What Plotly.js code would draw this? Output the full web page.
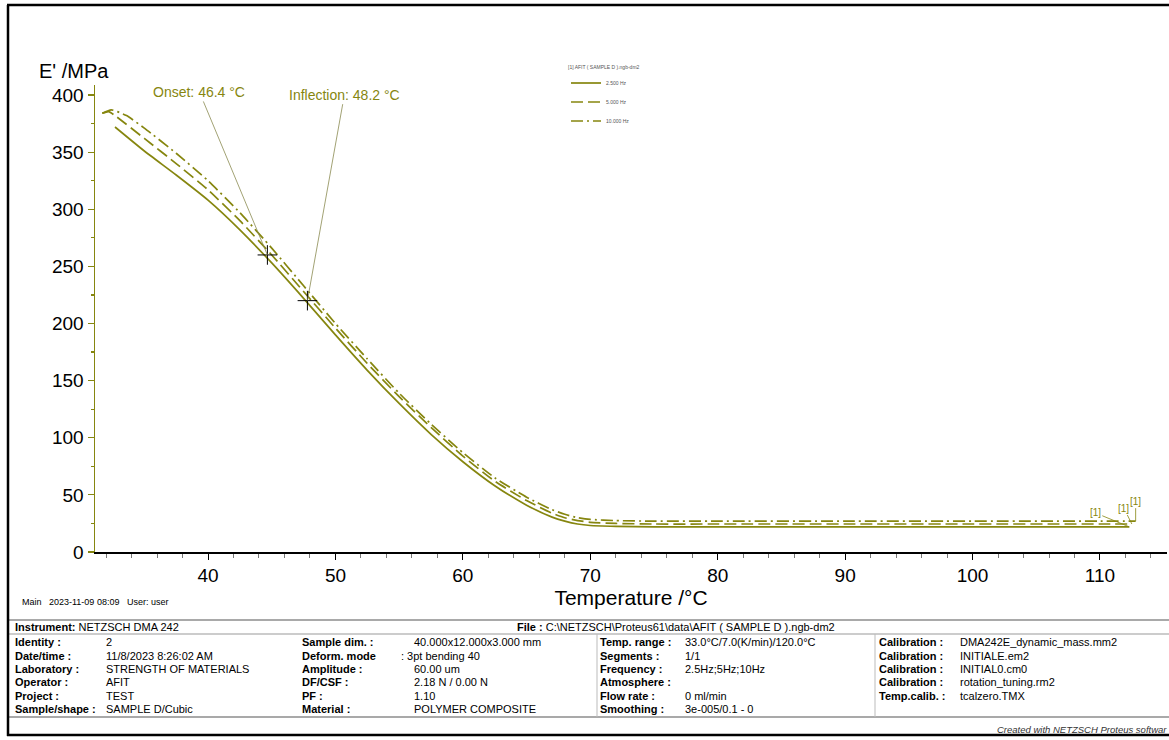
<!DOCTYPE html>
<html><head><meta charset="utf-8">
<script src="https://cdn.plot.ly/plotly-3.0.1.min.js"></script>
<style>html,body{margin:0;padding:0;background:#fff;} #chart{width:1169px;height:740px;}</style>
</head><body><div id="chart"></div>
<script>
// ---- data ----
const tempSolid = [32.7, 35, 37.5, 40, 42.5, 45, 47.5, 50, 52.5, 55, 57.5, 60, 62.5, 65, 67, 68, 69, 70, 72, 75, 80, 90, 100, 110, 112.3];
const eSolid    = [372, 351, 330, 308, 282, 253, 222, 190, 159, 130, 103, 79, 58, 41, 30.5, 27, 24.5, 23.2, 22.5, 22, 22, 22, 22, 22, 22];
const tempDash  = [31.7, 32.2, 32.7, 35, 37.5, 40, 42.5, 45, 47.5, 50, 52.5, 55, 57.5, 60, 62.5, 65, 67, 68, 69, 70, 72, 75, 80, 90, 100, 110, 112.5];
const eDash     = [384, 385.5, 382, 362, 340, 317, 290, 260, 228, 196, 165, 136, 109, 84, 62, 45, 34, 30, 27.5, 26, 25, 24.5, 24.5, 24.5, 24.5, 24.5, 24.5];
const tempDDot  = [31.7, 32.4, 33.6, 35, 37.5, 40, 42.5, 45, 47.5, 50, 52.5, 55, 57.5, 60, 62.5, 65, 67, 68, 69, 70, 72, 75, 80, 90, 100, 110, 112.8];
const eDDot     = [384, 387, 382, 371, 349, 325, 297, 266, 233, 200, 169, 139, 112, 87, 65, 48, 37, 33, 30, 28.5, 27.5, 27, 27, 27, 27, 27, 27];
const seriesNames = ["2.500 Hz", "5.000 Hz", "10.000 Hz"];
const legendTitle = "[1] AFIT ( SAMPLE D ).ngb-dm2";
const markTemp = [44.66, 47.8];
const markE    = [260, 220];
const markText = ["Onset: 46.4 °C", "Inflection: 48.2 °C"];
const xTickVals = [40, 50, 60, 70, 80, 90, 100, 110];
const yTickVals = [0, 50, 100, 150, 200, 250, 300, 350, 400];
const xTitle = "Temperature /°C";
const yTitle = "E' /MPa";
const mainLine = "Main   2023-11-09 08:09   User: user";
const instrumentText = "<b>Instrument:</b> NETZSCH DMA 242";
const fileText = "<b>File :</b> C:\\NETZSCH\\Proteus61\\data\\AFIT ( SAMPLE D ).ngb-dm2";
const col1Labels = ["Identity :", "Date/time :", "Laboratory :", "Operator :", "Project :", "Sample/shape :"];
const col1Values = ["2", "11/8/2023 8:26:02 AM", "STRENGTH OF MATERIALS", "AFIT", "TEST", "SAMPLE D/Cubic"];
const col2Labels = ["Sample dim. :", "Deform. mode", "Amplitude :", "DF/CSF :", "PF :", "Material :"];
const col2Values = ["40.000x12.000x3.000 mm", ": 3pt bending 40", "60.00 um", "2.18 N / 0.00 N", "1.10", "POLYMER COMPOSITE"];
const col3Labels = ["Temp. range :", "Segments :", "Frequency :", "Atmosphere :", "Flow rate :", "Smoothing :"];
const col3Values = ["33.0°C/7.0(K/min)/120.0°C", "1/1", "2.5Hz;5Hz;10Hz", "", "0 ml/min", "3e-005/0.1 - 0"];
const col4Labels = ["Calibration :", "Calibration :", "Calibration :", "Calibration :", "Temp.calib. :", ""];
const col4Values = ["DMA242E_dynamic_mass.mm2", "INITIALE.em2", "INITIAL0.cm0", "rotation_tuning.rm2", "tcalzero.TMX", ""];
const footer = "Created with NETZSCH Proteus softwar";

// ---- layout helpers (pixel -> paper) ----
const L = 95, R = 2, T = 85, B = 188, WW = 1169, HH = 740;
const PW = WW - L - R, PH = HH - T - B;
const px = v => (v - L) / PW;
const py = v => (HH - B - v) / PH;

const OLIVE = "#86860f";
const FONT = "Liberation Sans, Arial, sans-serif";
const lineStyle = d => ({color: OLIVE, width: 1.7, dash: d, shape: "spline", smoothing: 0.5});

const traces = [
  {x: tempSolid, y: eSolid, name: seriesNames[0], mode: "lines", line: lineStyle("solid")},
  {x: tempDash, y: eDash, name: seriesNames[1], mode: "lines", line: lineStyle("12px,5px")},
  {x: tempDDot, y: eDDot, name: seriesNames[2], mode: "lines", line: lineStyle("12px,4px,2px,4px")},
  {x: markTemp, y: markE, mode: "markers", showlegend: false, hoverinfo: "skip",
   marker: {symbol: "cross-thin", size: 14, line: {color: "#000", width: 1}}}
];

const ann = [];
const shapes = [];
function txt(x, y, text, size, opts) {
  ann.push(Object.assign({xref: "paper", yref: "paper", x: px(x), y: py(y), text: text, showarrow: false,
    xanchor: "left", yanchor: "middle", font: {family: FONT, size: size, color: "#000"}}, opts || {}));
}
function hline(x0, x1, y, color, w) {
  shapes.push({type: "line", xref: "paper", yref: "paper", x0: px(x0), x1: px(x1), y0: py(y), y1: py(y), line: {color: color, width: w}});
}
function vline(x, y0, y1, color, w) {
  shapes.push({type: "line", xref: "paper", yref: "paper", x0: px(x), x1: px(x), y0: py(y0), y1: py(y1), line: {color: color, width: w}});
}

// axis title (y)
txt(37, 71, yTitle, 20);
// marker labels with leader lines
const labelPos = [[200, 93], [345, 95]];
const markPx = [[268, 256], [308, 301]];
for (let i = 0; i < markText.length; i++) {
  ann.push({x: markTemp[i], y: markE[i], xref: "x", yref: "y", text: markText[i], showarrow: true, arrowhead: 0,
    arrowwidth: 0.8, arrowcolor: "#8a8a50", ax: labelPos[i][0] - markPx[i][0], ay: labelPos[i][1] - markPx[i][1],
    font: {family: FONT, size: 14, color: OLIVE}});
}
// curve end labels
const endX = [tempSolid[tempSolid.length - 1], tempDash[tempDash.length - 1], tempDDot[tempDDot.length - 1]];
const endY = [eSolid[eSolid.length - 1], eDash[eDash.length - 1], eDDot[eDDot.length - 1]];
const endOff = [[-34, -14], [-8, -16], [0, -20]];
for (let i = 0; i < 3; i++) {
  ann.push({x: endX[i], y: endY[i], xref: "x", yref: "y", text: "[1]", showarrow: true, arrowhead: 0, arrowwidth: 0.8,
    arrowcolor: OLIVE, ax: endOff[i][0], ay: endOff[i][1], font: {family: FONT, size: 10, color: OLIVE}});
}

// info line and table
txt(20, 602, mainLine, 9);
hline(8, 1169, 620, "#555", 1.2);
hline(8, 1169, 634, "#999", 1);
hline(8, 1169, 717, "#555", 1.2);
vline(597, 634, 717, "#bbb", 1);
vline(875, 634, 717, "#bbb", 1);
txt(13, 627, instrumentText, 11);
txt(515, 627, fileText, 11);
const rowY = [642, 656, 669, 682, 696, 709];
for (let i = 0; i < 6; i++) {
  txt(13, rowY[i], "<b>" + col1Labels[i] + "</b>", 11);
  txt(104, rowY[i], col1Values[i], 11);
  txt(300, rowY[i], "<b>" + col2Labels[i] + "</b>", 11);
  txt(i === 1 ? 399 : 412, rowY[i], col2Values[i], 11);
  txt(598, rowY[i], "<b>" + col3Labels[i] + "</b>", 11);
  txt(683, rowY[i], col3Values[i], 11);
  if (col4Labels[i]) txt(877, rowY[i], "<b>" + col4Labels[i] + "</b>", 11);
  if (col4Values[i]) txt(958, rowY[i], col4Values[i], 11);
}
txt(1169, 729, "<i>" + footer + "</i>", 9.5, {xanchor: "right", font: {family: FONT, size: 9.5, color: "#333"}});
// outer frame
hline(7, 1169, 5, "#000", 2.5);
vline(8, 5, 736, "#000", 2.5);
hline(7, 1169, 735, "#000", 2.5);

const layout = {
  width: WW, height: HH,
  margin: {l: L, r: R, t: T, b: B, pad: 0},
  paper_bgcolor: "#fff", plot_bgcolor: "#fff",
  font: {family: FONT, color: "#000"},
  showlegend: true,
  legend: {x: px(566), y: py(62), xanchor: "left", yanchor: "top", bgcolor: "rgba(0,0,0,0)",
    font: {family: FONT, size: 5, color: "#555"}, title: {text: legendTitle, font: {family: FONT, size: 5, color: "#555"}},
    itemwidth: 30, tracegroupgap: 0},
  xaxis: {range: [31.13, 115.26], tickvals: xTickVals, showgrid: false, zeroline: false,
    showline: true, linecolor: "#000", linewidth: 1.5, ticks: "outside", ticklen: 6, tickcolor: "#000", tickwidth: 1,
    tickfont: {family: FONT, size: 19, color: "#000"},
    minor: {dtick: 2, ticks: "outside", ticklen: 4, tickcolor: "#777", showgrid: false},
    title: {text: xTitle, font: {family: FONT, size: 21, color: "#000"}, standoff: 2}},
  yaxis: {range: [0, 408.75], tickvals: yTickVals, showgrid: false, zeroline: false,
    showline: true, linecolor: OLIVE, linewidth: 1.5, ticks: "outside", ticklen: 6, tickcolor: OLIVE, tickwidth: 1.2,
    tickfont: {family: FONT, size: 19, color: "#000"},
    minor: {dtick: 25, ticks: "outside", ticklen: 3, tickcolor: OLIVE, showgrid: false}},
  annotations: ann, shapes: shapes
};
Plotly.newPlot("chart", traces, layout, {displayModeBar: false, staticPlot: true});
</script></body></html>
